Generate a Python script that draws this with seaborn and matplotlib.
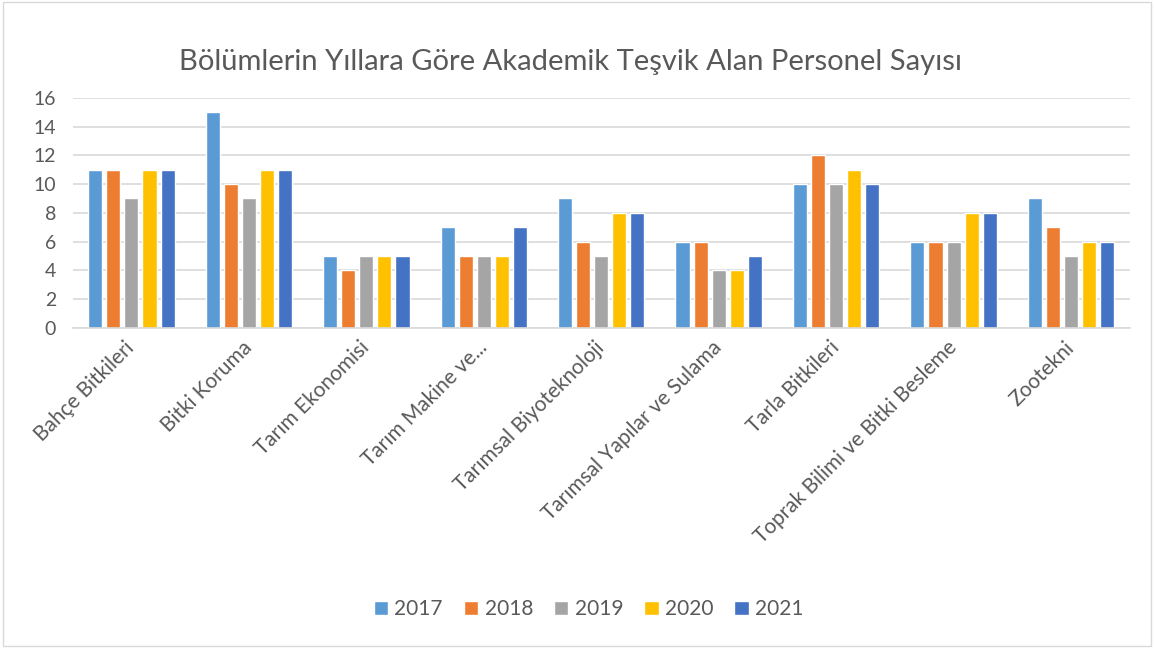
import matplotlib
matplotlib.use("Agg")
import matplotlib.pyplot as plt
import numpy as np
import pandas as pd
import seaborn as sns
from matplotlib.patches import Rectangle

departments = [
    "Bahçe Bitkileri",
    "Bitki Koruma",
    "Tarım Ekonomisi",
    "Tarım Makine ve...",
    "Tarımsal Biyoteknoloji",
    "Tarımsal Yapılar ve Sulama",
    "Tarla Bitkileri",
    "Toprak Bilimi ve Bitki Besleme",
    "Zootekni",
]
years = ["2017", "2018", "2019", "2020", "2021"]
y2017 = [11, 15, 5, 7, 9, 6, 10, 6, 9]
y2018 = [11, 10, 4, 5, 6, 6, 12, 6, 7]
y2019 = [9, 9, 5, 5, 5, 4, 10, 6, 5]
y2020 = [11, 11, 5, 5, 8, 4, 11, 8, 6]
y2021 = [11, 11, 5, 7, 8, 5, 10, 8, 6]
colors = ["#5B9BD5", "#ED7D31", "#A5A5A5", "#FFC000", "#4472C4"]

rows = []
for year, vals in zip(years, [y2017, y2018, y2019, y2020, y2021]):
    for dep, v in zip(departments, vals):
        rows.append({"Bölüm": dep, "Yıl": year, "Sayı": v})
df = pd.DataFrame(rows)

sns.set_style("white")
plt.rcParams["font.family"] = ["Lato", "DejaVu Sans"]
text_color = "#595959"

fig = plt.figure(figsize=(11.54, 6.48), dpi=100)
ax = fig.add_axes([0.063, 0.494, 0.916, 0.355])

sns.barplot(
    data=df,
    x="Bölüm",
    y="Sayı",
    hue="Yıl",
    order=departments,
    hue_order=years,
    palette=colors,
    saturation=1,
    width=0.77,
    gap=0.22,
    errorbar=None,
    ax=ax,
    legend=True,
)

ax.set_ylim(0, 16)
ax.set_yticks(np.arange(0, 17, 2))
ax.yaxis.grid(True, color="#D9D9D9", linewidth=1.2)
ax.set_axisbelow(True)
for s in ["top", "right", "left"]:
    ax.spines[s].set_visible(False)
ax.spines["bottom"].set_color("#D9D9D9")
ax.spines["bottom"].set_linewidth(1.2)
ax.tick_params(axis="both", length=0, labelsize=14, labelcolor=text_color)
ax.tick_params(axis="y", pad=12)
ax.set_xlabel("")
ax.set_ylabel("")
ax.set_xticks(range(len(departments)))
ax.set_xticklabels(departments, rotation=45, ha="right", va="center",
                   rotation_mode="anchor", fontsize=15)
ax.tick_params(axis="x", pad=12)

handles, labels = ax.get_legend_handles_labels()
ax.get_legend().remove()
fig.legend(handles, labels, loc="center", bbox_to_anchor=(0.51, 0.06),
           ncol=5, frameon=False, fontsize=15, handlelength=0.7,
           handleheight=0.7, handletextpad=0.3, columnspacing=1.0,
           labelcolor=text_color)

fig.text(0.494, 0.904, "Bölümlerin Yıllara Göre Akademik Teşvik Alan Personel Sayısı",
         ha="center", va="center", fontsize=21, color=text_color)

fig.add_artist(Rectangle((0.003, 0.003), 0.994, 0.994, transform=fig.transFigure,
                         fill=False, edgecolor="#D9D9D9", linewidth=1))

fig.savefig("out.png", dpi=100)
